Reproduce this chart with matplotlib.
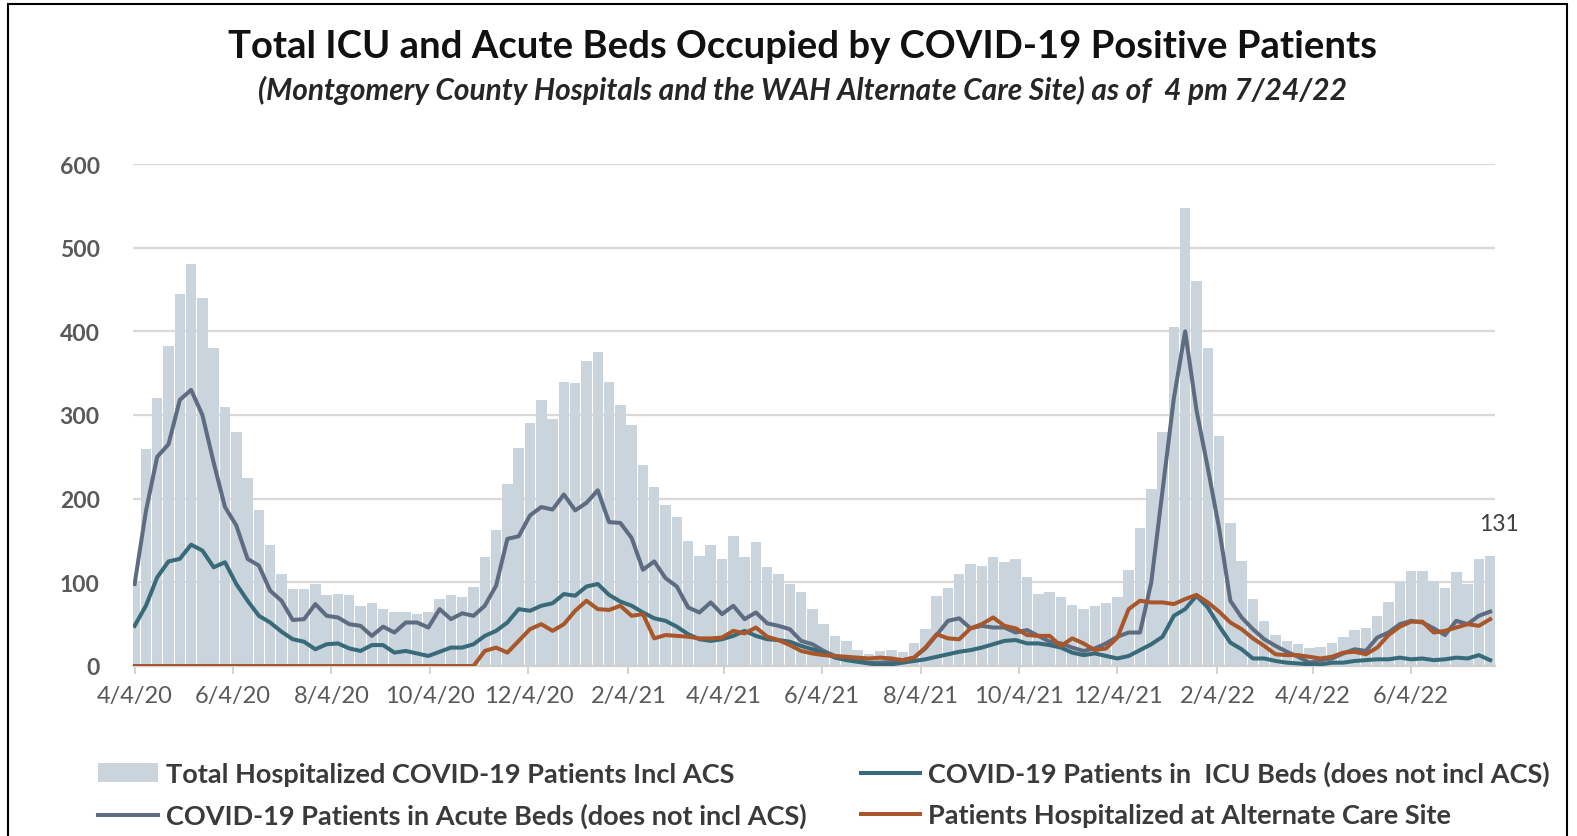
import matplotlib
matplotlib.use("Agg")
import matplotlib.pyplot as plt
from matplotlib.patches import Rectangle
import pandas as pd

# weekly readings starting 4/4/20 (every 7 days through 7/23/22)
start_date = "2020-04-04"

total_hosp = [
    100, 259, 320, 382, 445, 480, 440, 380, 310, 280,
    225, 187, 145, 110, 92, 92, 98, 85, 86, 85,
    72, 75, 68, 65, 64, 62, 65, 80, 85, 83,
    95, 130, 162, 218, 260, 290, 318, 295, 340, 338,
    365, 375, 340, 312, 288, 240, 214, 192, 178, 150,
    132, 145, 128, 155, 130, 148, 118, 110, 98, 88,
    68, 50, 36, 30, 19, 14, 18, 19, 17, 27,
    44, 84, 93, 110, 122, 120, 130, 124, 128, 106,
    86, 88, 82, 73, 68, 72, 75, 82, 115, 165,
    212, 280, 405, 548, 460, 380, 275, 171, 125, 80,
    54, 37, 30, 26, 22, 23, 27, 35, 43, 45,
    60, 76, 100, 114, 113, 102, 93, 112, 98, 128,
    131,
]

acute_beds = [
    98, 185, 250, 265, 318, 330, 300, 243, 190, 168,
    128, 120, 90, 78, 55, 56, 74, 60, 58, 50,
    48, 36, 47, 40, 52, 52, 46, 68, 56, 63,
    60, 72, 96, 152, 155, 180, 190, 187, 205, 186,
    195, 210, 172, 171, 153, 115, 125, 105, 95, 70,
    64, 76, 62, 72, 56, 64, 51, 48, 44, 30,
    26, 18, 12, 9, 6, 4, 4, 5, 7, 10,
    21, 37, 54, 57, 45, 48, 46, 46, 40, 43,
    36, 29, 27, 22, 18, 21, 27, 35, 40, 40,
    100, 210, 320, 400, 306, 237, 165, 78, 58, 44,
    32, 24, 17, 11, 4, 7, 9, 15, 20, 18,
    34, 40, 50, 54, 52, 45, 37, 54, 50, 60,
    65,
]

icu_beds = [
    48, 72, 106, 125, 128, 145, 138, 118, 124, 98,
    78, 60, 52, 41, 32, 29, 20, 26, 27, 21,
    18, 25, 25, 16, 18, 15, 12, 17, 22, 22,
    26, 36, 42, 52, 68, 66, 72, 75, 86, 84,
    95, 98, 85, 77, 72, 64, 57, 54, 47, 38,
    32, 30, 32, 36, 42, 36, 32, 31, 29, 24,
    20, 16, 10, 7, 5, 3, 1, 2, 4, 6,
    8, 11, 14, 17, 19, 22, 26, 30, 31, 27,
    27, 25, 22, 16, 13, 15, 12, 9, 12, 19,
    26, 35, 60, 68, 84, 70, 48, 28, 20, 9,
    9, 6, 4, 3, 2, 2, 4, 4, 6, 7,
    8, 8, 10, 8, 9, 7, 8, 10, 9, 13,
    7,
]

acs_patients = [
    0, 0, 0, 0, 0, 0, 0, 0, 0, 0,
    0, 0, 0, 0, 0, 0, 0, 0, 0, 0,
    0, 0, 0, 0, 0, 0, 0, 0, 0, 0,
    0, 18, 22, 16, 30, 44, 50, 42, 50, 66,
    78, 68, 67, 72, 60, 62, 33, 37, 36, 35,
    33, 33, 34, 42, 39, 46, 35, 31, 25, 18,
    15, 13, 12, 11, 10, 9, 10, 9, 7, 10,
    22, 38, 33, 32, 45, 50, 58, 48, 45, 37,
    36, 36, 24, 33, 27, 19, 21, 34, 68, 78,
    76, 76, 74, 80, 85, 76, 65, 52, 44, 33,
    24, 14, 13, 13, 11, 9, 11, 16, 17, 14,
    22, 37, 47, 53, 53, 40, 42, 46, 50, 48,
    56,
]

tick_dates = ["2020-04-04", "2020-06-04", "2020-08-04", "2020-10-04",
              "2020-12-04", "2021-02-04", "2021-04-04", "2021-06-04",
              "2021-08-04", "2021-10-04", "2021-12-04", "2022-02-04",
              "2022-04-04", "2022-06-04"]
tick_labels = ["4/4/20", "6/4/20", "8/4/20", "10/4/20", "12/4/20", "2/4/21",
               "4/4/21", "6/4/21", "8/4/21", "10/4/21", "12/4/21", "2/4/22",
               "4/4/22", "6/4/22"]

labels = [
    "Total Hospitalized COVID-19 Patients Incl ACS",
    "COVID-19 Patients in Acute Beds (does not incl ACS)",
    "COVID-19 Patients in  ICU Beds (does not incl ACS)",
    "Patients Hospitalized at Alternate Care Site",
]

dates = pd.date_range(start_date, periods=len(total_hosp), freq="7D")

plt.rcParams["font.family"] = ["Lato", "DejaVu Sans"]

fig = plt.figure(figsize=(15.77, 8.37), dpi=100)
ax = fig.add_axes([133 / 1577, 1 - 667 / 837, (1495 - 133) / 1577, (667 - 165) / 837])

bars = ax.bar(dates, total_hosp, width=6.5, color="#c9d4dc", linewidth=0,
              label=labels[0], zorder=2)
l_acute, = ax.plot(dates, acute_beds, color="#5e6c81", lw=2.9,
                   label=labels[1], zorder=3)
l_icu, = ax.plot(dates, icu_beds, color="#396a79", lw=2.9,
                 label=labels[2], zorder=3)
l_acs, = ax.plot(dates, acs_patients, color="#a9572a", lw=2.9,
                 label=labels[3], zorder=4)

ax.annotate(str(total_hosp[-1]), (dates[-1], total_hosp[-1]),
            xytext=(6, 24), textcoords="offset points", ha="center",
            va="center", fontsize=16.5, color="#404040")

ax.set_ylim(0, 600)
ax.set_xlim(pd.Timestamp("2020-04-03"), pd.Timestamp("2022-07-26"))
ax.set_yticks(range(0, 601, 100))
ax.yaxis.grid(True, color="#d9d9d9", lw=1.6, zorder=0)
ax.set_axisbelow(True)

ax.set_xticks(pd.to_datetime(tick_dates))
ax.set_xticklabels(tick_labels)
ax.tick_params(axis="x", length=6, width=1.3, color="#d0d0d0",
               labelsize=17, labelcolor="#595959", pad=8)
ax.tick_params(axis="y", length=0, labelsize=16.5, labelcolor="#595959", pad=24)
for t in ax.get_yticklabels():
    t.set_fontweight("bold")

for side in ["top", "right", "left"]:
    ax.spines[side].set_visible(False)
ax.spines["bottom"].set_color("#d0d0d0")
ax.spines["bottom"].set_linewidth(1.6)

fig.text(0.509, 1 - 47 / 837, "Total ICU and Acute Beds Occupied by COVID-19 Positive Patients",
         ha="center", va="center", fontsize=27.5, fontweight="bold", color="#111111")
fig.text(0.509, 1 - 90 / 837,
         "(Montgomery County Hospitals and the WAH Alternate Care Site) as of  4 pm 7/24/22",
         ha="center", va="center", fontsize=21.5, fontweight="bold", style="italic",
         color="#262626")

leg = fig.legend(handles=[bars, l_acute, l_icu, l_acs], labels=labels, ncol=2,
                 loc="upper left", bbox_to_anchor=(98 / 1577, 1 - 762 / 837),
                 frameon=False, fontsize=19.5, handlelength=2.2, handleheight=0.7,
                 handletextpad=0.3, columnspacing=2.0, labelspacing=0.62,
                 borderaxespad=0, borderpad=0)
for t in leg.get_texts():
    t.set_color("#3a3a3a")
    t.set_fontweight("bold")

fig.patches.append(Rectangle((8 / 1577, -0.05), (1567 - 8) / 1577, 1.05 - 5 / 837,
                             transform=fig.transFigure, fill=False,
                             edgecolor="#000000", lw=1.5))

fig.savefig("out.png", dpi=100)
